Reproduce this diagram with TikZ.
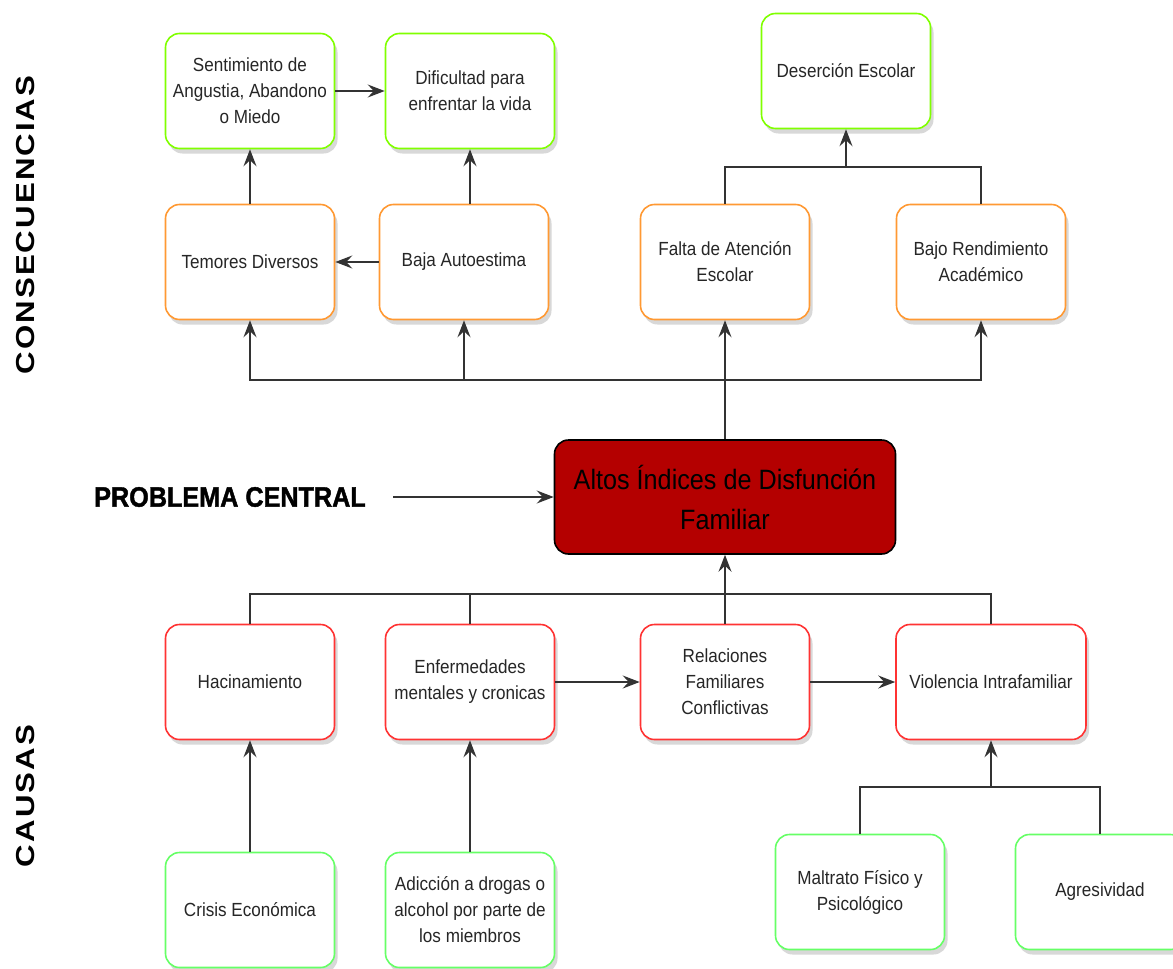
\documentclass[tikz,border=0pt]{standalone}
\usepackage{fontspec}
\setmainfont{Liberation Sans}
\newfontfamily\boxfont[FakeStretch=0.9]{Liberation Sans}
\newfontfamily\sidefont[FakeStretch=1.2,LetterSpace=8]{Liberation Sans}
\newfontfamily\probfont[FakeStretch=0.9,FakeBold=1.5]{Liberation Sans}
\usetikzlibrary{arrows.meta,shadows}
\definecolor{cgreen}{HTML}{80FF00}
\definecolor{cgreenb}{HTML}{66FF66}
\definecolor{corange}{HTML}{FF9933}
\definecolor{cred}{HTML}{FF3333}
\definecolor{cdark}{HTML}{B40000}
\begin{document}
\begin{tikzpicture}[x=1pt,y=-1pt,
  box/.style={draw, line width=1.6pt, rounded corners=14pt, fill=white,
    minimum width=169pt, minimum height=115pt, inner sep=2pt, align=center,
    font=\boxfont\fontsize{19}{26}\selectfont, text=black!85,
    drop shadow={shadow xshift=3pt, shadow yshift=-5pt, fill=black!30}},
  gbox/.style={box, draw=cgreen},
  g2box/.style={box, draw=cgreenb},
  obox/.style={box, draw=corange},
  rbox/.style={box, draw=cred},
  central/.style={draw=black, line width=1.6pt, rounded corners=14pt, fill=cdark,
    minimum width=341pt, minimum height=114pt, inner sep=2pt, align=center,
    font=\boxfont\fontsize{28}{40}\selectfont, text=black},
  conn/.style={line width=1.6pt, draw=black!80},
  arr/.style={conn, -{Stealth[length=17pt,width=13pt,inset=6pt]}},
  side/.style={rotate=90, font=\sidefont\bfseries\fontsize{26}{26}\selectfont, text=black},
]
\clip (0,0) rectangle (1173,969);
\fill[white] (0,0) rectangle (1173,969);

% consequences
\node[gbox] (sent) at (250,91) {Sentimiento de\\Angustia, Abandono\\o Miedo};
\node[gbox] (dif) at (470,91) {Dificultad para\\enfrentar la vida};
\node[obox] (tem) at (250,262) {Temores Diversos};
\node[obox] (baja) at (464,262) {Baja Autoestima};
\node[gbox] (des) at (846,71) {Deserción Escolar};
\node[obox] (falta) at (725,262) {Falta de Atención\\Escolar};
\node[obox] (bajo) at (981,262) {Bajo Rendimiento\\Académico};

% central
\node[central] (cen) at (725,497) {Altos Índices de Disfunción\\Familiar};
\node[font=\probfont\bfseries\fontsize{28}{28}\selectfont] (prob) at (230,497) {PROBLEMA CENTRAL};
\coordinate (probr) at (393,497);

% causes
\node[rbox] (hac) at (250,682) {Hacinamiento};
\node[rbox] (enf) at (470,682) {Enfermedades\\mentales y cronicas};
\node[rbox] (rel) at (725,682) {Relaciones\\Familiares\\Conflictivas};
\node[rbox, minimum width=190pt] (vio) at (991,682) {Violencia Intrafamiliar};
\node[g2box] (cri) at (250,910) {Crisis Económica};
\node[g2box] (adi) at (470,910) {Adicción a drogas o\\alcohol por parte de\\los miembros};
\node[g2box] (mal) at (860,892) {Maltrato Físico y\\Psicológico};
\node[g2box] (agr) at (1100,892) {Agresividad};

% side labels
\node[side] (cons) at (26,225) {CONSECUENCIAS};
\node[side] (caus) at (26,796) {CAUSAS};

% connectors, consequences
\draw[arr] (sent) -- (dif);
\draw[arr] (tem) -- (sent);
\draw[arr] (baja.north -| dif) -- (dif.south);
\draw[arr] (baja) -- (tem);
\coordinate (dj) at (846,167);
\draw[conn] (falta.north) |- (dj) -| (bajo.north);
\draw[arr] (dj) -- (des.south);
\coordinate (cj) at (725,380);
\draw[conn] (cen.north) -- (cj);
\draw[arr] (cj) -| (tem.south);
\draw[arr] (cj) -| (baja.south);
\draw[arr] (cj) -- (falta.south);
\draw[arr] (cj) -| (bajo.south);

% central arrow
\draw[arr] (probr) -- (cen.west);

% connectors, causes
\coordinate (kj) at (725,594);
\draw[conn] (hac.north) |- (kj);
\draw[conn] (enf.north) |- (kj);
\draw[conn] (vio.north) |- (kj);
\draw[conn] (rel.north) -- (kj);
\draw[arr] (kj) -- (cen.south);
\draw[arr] (enf) -- (rel);
\draw[arr] (rel) -- (vio);
\draw[arr] (cri) -- (hac);
\draw[arr] (adi) -- (enf);
\coordinate (vj) at (991,787);
\draw[conn] (mal.north) |- (vj) -| (agr.north);
\draw[arr] (vj) -- (vio.south);
\end{tikzpicture}
\end{document}
